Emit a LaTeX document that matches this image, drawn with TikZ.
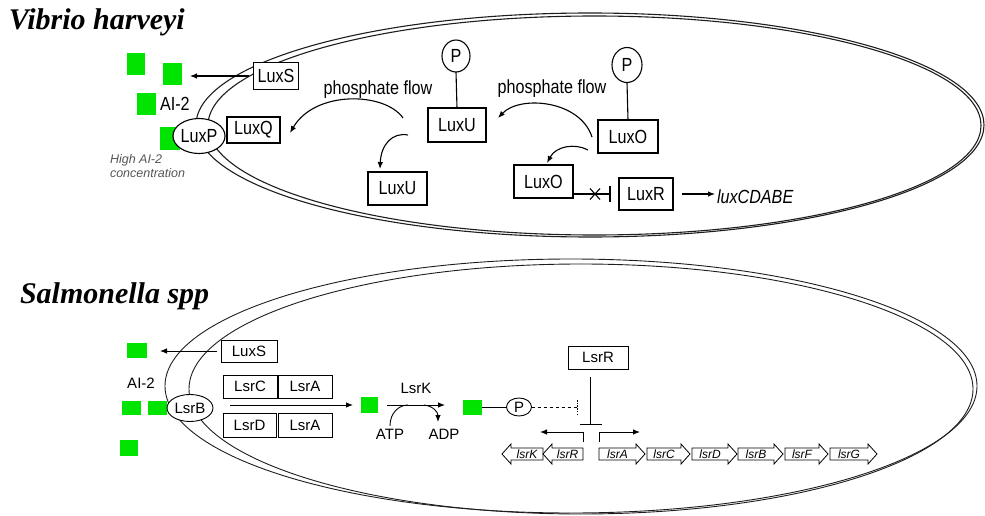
\documentclass[tikz,border=0pt]{standalone}
\usepackage{fontspec}
\setmainfont{Liberation Sans}
\newfontfamily\condsans[FakeStretch=0.85]{Liberation Sans}
\newfontfamily\titleserif{Liberation Serif}
\usetikzlibrary{arrows.meta,shapes.geometric}
\definecolor{aigreen}{RGB}{0,228,0}
\definecolor{notegray}{RGB}{85,85,85}
\definecolor{membranegray}{RGB}{30,30,30}

\tikzset{
  every node/.style={inner sep=0pt, outer sep=0pt},
  toptext/.style={font=\condsans\fontsize{19}{21}\selectfont},
  bottext/.style={font=\fontsize{15}{17}\selectfont},
  tbox/.style={draw, fill=white, line width=1.2pt, toptext},
  bbox/.style={draw, fill=white, line width=0.9pt, bottext},
  pcirc/.style={draw, ellipse, fill=white, line width=1.1pt},
  membrane/.style={line width=1.1pt, draw=membranegray},
  tip/.style={-{Latex[length=7pt,width=5.5pt]}},
  ai/.style={fill=aigreen, draw=none},
  genebox/.style={draw, line width=0.8pt, fill=white},
  genelabel/.style={font=\itshape\fontsize{12}{13}\selectfont},
  titletext/.style={anchor=base west, font=\titleserif\bfseries\itshape\fontsize{30}{33}\selectfont},
}

\begin{document}
\begin{tikzpicture}[x=1pt,y=-1pt]
\useasboundingbox (0,0) rectangle (985,516);

% ---------------- Vibrio harveyi ----------------
\node[titletext] (title1) at (9,30) {Vibrio harveyi};

% cell envelope (outer and inner membrane)
\draw[membrane] (590,125) ellipse [x radius=394pt, y radius=112pt];
\draw[membrane] (594.5,125.5) ellipse [x radius=386.5pt, y radius=109.5pt];

% AI-2 molecules outside the cell
\node[ai, minimum width=18, minimum height=22] (va1) at (136,64) {};
\node[ai, minimum width=19, minimum height=22] (va2) at (172.5,74) {};
\node[ai, minimum width=19, minimum height=22] (va3) at (146.5,104) {};
\node[ai, minimum width=20, minimum height=23] (va4) at (170,138.5) {};
\node[toptext, anchor=west] (vai) at (160,104) {AI-2};
\node[anchor=north west, align=left, text=notegray,
      font=\itshape\fontsize{12.5}{14}\selectfont] (vnote) at (110,154)
      {High AI-2\\concentration};

% proteins
\node[tbox, minimum width=45, minimum height=27] (vluxS) at (276,76) {LuxS};
\node[pcirc, minimum width=38, minimum height=35, toptext] (vluxP) at (199,136) {LuxP};
\node[tbox, minimum width=53, minimum height=26] (vluxQ) at (253.5,130) {LuxQ};
\node[tbox, minimum width=58, minimum height=34] (vluxU1) at (457,125) {LuxU};
\node[tbox, minimum width=59, minimum height=33] (vluxU2) at (397.5,188.5) {LuxU};
\node[tbox, minimum width=60, minimum height=33] (vluxO1) at (628,136.5) {LuxO};
\node[tbox, minimum width=59, minimum height=33] (vluxO2) at (543.5,181.5) {LuxO};
\node[tbox, minimum width=54, minimum height=32] (vluxR) at (646,194) {LuxR};
\node[pcirc, minimum width=28, minimum height=32, toptext] (vp1) at (456,56) {P};
\node[pcirc, minimum width=30, minimum height=35, toptext] (vp2) at (627,65) {P};
\node[toptext, anchor=west, font=\condsans\itshape\fontsize{19}{21}\selectfont] (vlux) at (717,197) {luxCDABE};
\node[toptext] (vflow1) at (378,90) {phosphate flow};
\node[toptext] (vflow2) at (552,89) {phosphate flow};

% phosphate bonds
\draw[line width=1.1pt] (vp1.south) -- (vluxU1.north);
\draw[line width=1.1pt] (vp2.south) -- (vluxO1.north);

% AI-2 export
\draw[tip, line width=1.1pt, shorten <=5pt, shorten >=8pt] (vluxS.west) -- (vluxS.west -| va2.east);

% phosphate flow arrows
\coordinate (f1s) at (403,118);
\coordinate (f1e) at (290,133);
\coordinate (f2s) at (408,135);
\coordinate (f2e) at (380,169);
\coordinate (f3s) at (592,137);
\coordinate (f3e) at (498,118);
\coordinate (f4s) at (588,150);
\coordinate (f4e) at (547,163);
\draw[tip, line width=1.1pt] (f1s) .. controls (385,92) and (315,90) .. (f1e);
\draw[tip, line width=1.1pt] (f2s) .. controls (392,132) and (381,145) .. (f2e);
\draw[tip, line width=1.1pt] (f3s) .. controls (580,100) and (520,95) .. (f3e);
\draw[tip, line width=1.1pt] (f4s) .. controls (575,143) and (556,146) .. (f4e);

% blocked repression of LuxR
\coordinate (vbar) at (610,194);
\coordinate (vx) at (595,194);
\draw[line width=1.1pt] (vluxO2.east |- vluxR.west) -- (vbar);
\draw[line width=1.1pt] (610,186) -- (610,202);
\draw[line width=1.1pt] ([shift={(-5pt,5.5pt)}]vx) -- ([shift={(5pt,-5.5pt)}]vx);
\draw[line width=1.1pt] ([shift={(-5pt,-5.5pt)}]vx) -- ([shift={(5pt,5.5pt)}]vx);
\draw[tip, line width=1.1pt, shorten <=9pt, shorten >=2pt] (vluxR.east) -- (vluxR.east -| vlux.west);

% ---------------- Salmonella spp ----------------
\node[titletext] (title2) at (20,303) {Salmonella spp};

\draw[membrane, line width=0.9pt] (571,386) ellipse [x radius=406pt, y radius=127pt];
\draw[membrane, line width=0.9pt] (581,389) ellipse [x radius=392pt, y radius=125pt];

\node[ai, minimum width=20, minimum height=15] (sa1) at (137,350.5) {};
\node[ai, minimum width=19, minimum height=14] (sa2) at (131.5,408) {};
\node[ai, minimum width=19, minimum height=14] (sa3) at (157.5,408) {};
\node[ai, minimum width=18, minimum height=16] (sa4) at (129,448) {};
\node[ai, minimum width=17, minimum height=16] (sam) at (369.5,405) {};
\node[ai, minimum width=19, minimum height=15] (sak) at (472.5,407.5) {};
\node[bottext] (sai) at (141,383) {AI-2};

\node[bbox, minimum width=56, minimum height=22] (sluxS) at (249,351) {LuxS};
\node[draw, ellipse, fill=white, line width=0.9pt, bottext, minimum width=46, minimum height=27] (slsrB) at (190,408) {LsrB};
\node[bbox, minimum width=54, minimum height=23] (slsrC) at (250,386.5) {LsrC};
\node[bbox, minimum width=54, minimum height=23] (slsrA1) at (305,386.5) {LsrA};
\node[bbox, minimum width=53, minimum height=24] (slsrD) at (249.5,425) {LsrD};
\node[bbox, minimum width=54, minimum height=24] (slsrA2) at (305,425) {LsrA};
\node[bbox, minimum width=60, minimum height=23] (slsrR) at (598,357.5) {LsrR};
\node[bottext] (slsrK) at (416,388) {LsrK};
\node[bottext] (satp) at (390,434) {ATP};
\node[bottext] (sadp) at (444,434) {ADP};
\node[draw, ellipse, line width=0.9pt, bottext, minimum width=25, minimum height=18] (sp) at (519,407) {P};

% AI-2 export and import
\draw[tip, line width=0.9pt, shorten <=4pt, shorten >=13pt] (sluxS.west) -- (sluxS.west -| sa1.east);
\draw[tip, line width=0.9pt, shorten <=17pt, shorten >=8pt] (sam.west -| slsrB.east) -- (sam.west);

% phosphorylation by LsrK
\draw[tip, line width=0.9pt, shorten <=9pt, shorten >=18pt] (sam.east) -- (sam.east -| sak.west);
\coordinate (atpjoin) at (408,405);
\coordinate (adpsplit) at (424,405);
\coordinate (adptip) at (438,422);
\draw[line width=0.9pt] ([yshift=3pt]satp.north) .. controls +(0,-13) and +(-9,0) .. (atpjoin);
\draw[tip, line width=0.9pt] (adpsplit) .. controls (433,406) and (438,412) .. (adptip);
\draw[line width=0.9pt] (sak.east |- sp.west) -- (sp.west);

% relief of LsrR repression
\coordinate (sdbar) at (577,407);
\draw[dashed, line width=0.8pt] (sp.east) -- (sdbar);
\draw[line width=0.8pt, dash pattern=on 1.5pt off 1.2pt] (577,400) -- (577,414);
\coordinate (srep) at (590,424);
\draw[line width=0.9pt, shorten <=8pt] (slsrR.south -| srep) -- (srep);
\draw[line width=0.9pt] (580,424) -- (602,424);

% divergent promoters
\coordinate (sprL) at (583,442);
\coordinate (sprR) at (599,442);
\coordinate (sprLe) at (540,432);
\coordinate (sprRe) at (640,432);
\draw[tip, line width=0.9pt] (sprL) |- (sprLe);
\draw[tip, line width=0.9pt] (sprR) |- (sprRe);

% lsr genes
\foreach \a/\b/\g in {502/543/lsrK, 543/583/lsrR} {
  \draw[genebox] (\a,454) -- ({\a+9},444) -- ({\a+9},448) -- (\b,448) -- (\b,460)
    -- ({\a+9},460) -- ({\a+9},464) -- cycle;
  \node[genelabel] (gene-\g) at ({(\a+9+\b)/2},454) {\g};
}
\foreach \a/\b/\g in {599/645/lsrA, 647/690/lsrC, 692/737/lsrD, 738/783/lsrB, 785/828/lsrF, 830/877/lsrG} {
  \draw[genebox] (\a,448) -- ({\b-9},448) -- ({\b-9},444) -- (\b,454) -- ({\b-9},464)
    -- ({\b-9},460) -- (\a,460) -- cycle;
  \node[genelabel] (gene-\g) at ({(\a+\b-9)/2},454) {\g};
}
\end{tikzpicture}
\end{document}
